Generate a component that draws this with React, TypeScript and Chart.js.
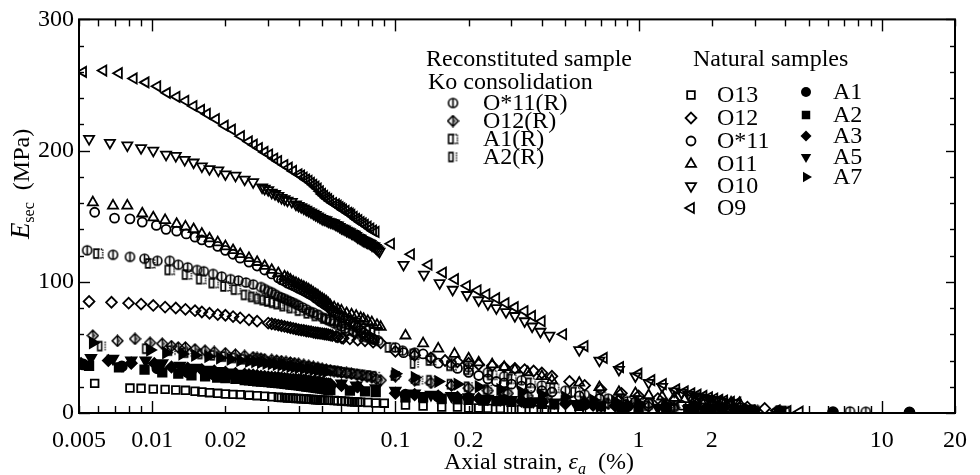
import React, { useEffect, useRef } from "react";
import { Chart, registerables } from "chart.js";
Chart.register(...registerables);

type Pt = [number, number];

const X_TICKS = [0.005, 0.01, 0.02, 0.1, 0.2, 1, 2, 10, 20];
const X_TICK_LABELS = ["0.005", "0.01", "0.02", "0.1", "0.2", "1", "2", "10", "20"];
const Y_TICKS = [0, 100, 200, 300];

// ---------- Natural samples ----------
const O13: Pt[] = [[0.0058,22.6],[0.0081,19],[0.009,18.8],[0.0101,18.2],[0.0113,18],[0.0125,17.5],[0.0137,17.3],[0.015,16.6],[0.016,16],[0.0172,15.5],[0.0186,15],[0.02,14.5],[0.0215,14.2],[0.023,14],[0.025,13.6],[0.027,13.2],[0.029,12.8],[0.031,12.4],[0.033,12],[0.035,11.7],[0.037,11.4],[0.04,11],[0.042,10.8],[0.044,10.5],[0.046,10.3],[0.048,10],[0.05,9.8],[0.053,9.7],[0.056,9.5],[0.06,9.2],[0.064,8.8],[0.068,8.4],[0.072,8.3],[0.077,8],[0.083,7.6],[0.09,7.5],
[0.034,11.8],[0.036,11.5],[0.038,11.2],[0.039,11.1],[0.041,10.9],[0.043,10.6],[0.045,10.4],[0.047,10.1],[0.049,9.9],[0.051,9.8],[0.058,9.3],[0.062,9],[0.066,8.6],[0.07,8.4],
[0.11,6],[0.13,5.3],[0.155,4.5],[0.18,4.5],[0.2,3.8],[0.22,3.8],[0.24,3.5],[0.27,3.3],[0.3,3],[0.33,2.8],[0.37,2.5],[0.41,2.3],[0.45,1.8],
[0.57,1.5],[0.7,1.3],[0.85,1.2],[1.0,1.1],[1.3,1],[1.7,0.9],[2.2,0.8],[2.7,0.7]];

const O12: Pt[] = [[0.0055,85],[0.0068,84.4],[0.008,83.7],[0.009,83],[0.0101,82],[0.0113,80.7],[0.0125,80],[0.0137,79],[0.015,78],[0.016,77],[0.0172,76],[0.0186,75],[0.02,74.5],[0.0215,73.5],[0.023,72.5],[0.025,71],[0.027,70],[0.03,68.5],[0.032,67.5],[0.035,66],[0.037,65],[0.04,63.5],[0.042,63],[0.045,62],[0.048,61],[0.05,60.5],[0.052,60],[0.055,59],[0.058,58],[0.061,57],[0.065,56.5],[0.07,55.5],[0.075,55],[0.081,54],[0.087,53.5],
[0.031,68],[0.033,67],[0.034,66.5],[0.036,65.5],[0.038,64.5],[0.039,64],[0.041,63.2],[0.043,62.5],[0.044,62.2],[0.046,61.5],[0.047,61.2],[0.049,60.7],[0.051,60.2],[0.053,59.7],[0.054,59.3],[0.057,58.3],[0.06,57.3],
[0.1,47],[0.12,44],[0.14,42],[0.16,40],[0.18,39],[0.2,38],[0.22,37],[0.25,36],[0.28,35],[0.31,34],[0.34,33],[0.37,32],[0.4,30.5],[0.44,28],
[0.52,24],[0.6,21],[0.7,18],[0.85,15],[1.0,13],[1.2,11],[1.4,9.5],[1.7,8],[2.0,6.5],[2.4,5.5],[2.8,4.5],[3.3,3.5]];

const O_STAR11: Pt[] = [[0.0058,153],[0.007,148.5],[0.0081,148],[0.0091,145.5],[0.0104,143],[0.0114,140],[0.0126,138.6],[0.0138,136.5],[0.015,134],[0.016,132],[0.0172,130],[0.0186,127],[0.02,124],[0.0215,121],[0.023,118],[0.025,115],[0.027,112],[0.029,109],[0.031,106],[0.033,103],[0.035,100.5],[0.037,98],[0.04,95],[0.042,93],[0.044,91],[0.046,89],[0.048,86.5],[0.05,84],[0.052,82],[0.054,79.5],[0.056,77],[0.058,75],[0.061,73],[0.064,71],[0.067,68],[0.07,65],[0.074,61],[0.078,58],[0.082,56],
[0.034,101.5],[0.036,99],[0.038,97],[0.039,96],[0.041,94],[0.043,92],[0.045,90],[0.047,87.5],[0.049,85],[0.051,83],[0.053,81],[0.055,78],[0.057,76],[0.059,74],[0.0625,72],[0.0655,69.5],[0.0685,66.5],[0.072,63],[0.076,59.5],[0.08,57],
[0.108,46],[0.13,45],[0.15,38],[0.18,34],[0.2,31],[0.22,28.6],[0.24,26],[0.26,24],[0.28,23],[0.3,22],[0.33,20.5],[0.36,19],[0.4,17],[0.44,16],
[0.57,13],[0.69,11],[0.83,9.5],[0.97,8.5],[1.1,7.5],[1.3,6.5],[1.5,6],[1.7,5.5],[2.0,5],[2.3,4.5],[2.6,4]];

const O11: Pt[] = [[0.0057,160.5],[0.0069,158],[0.0079,158],[0.0091,152],[0.0101,149],[0.0113,147],[0.0126,144],[0.0137,142],[0.0148,140],[0.016,136.5],[0.0172,133],[0.0186,130],[0.02,127],[0.0215,124],[0.023,121],[0.025,118],[0.027,115],[0.029,112],[0.031,109],[0.033,106.5],[0.035,104],[0.037,101.5],[0.04,98],[0.042,96],[0.044,94],[0.046,91.5],[0.048,89.5],[0.05,87],[0.052,85],[0.054,82],[0.058,79],[0.063,76],[0.069,74],[0.074,71.6],[0.08,69],[0.087,65.6],
[0.036,103],[0.038,100],[0.039,99],[0.041,97],[0.043,95],[0.045,93],[0.047,90.5],[0.049,88],[0.051,86],[0.053,83.5],[0.056,80.5],[0.06,78],[0.066,75],[0.072,72.5],[0.077,70],[0.084,67],
[0.11,59],[0.13,53],[0.15,49],[0.175,45],[0.2,41.5],[0.22,38.5],[0.25,37],[0.28,35],[0.31,33],[0.35,31],[0.4,28],[0.44,25],
[0.57,23],[0.69,19.6],[0.83,16],[0.97,15],[1.1,13.5],[1.25,12.5],[1.4,11.5],[1.55,10.5],[1.7,10],[1.85,9.5],[2.0,9],[2.2,8.5],[2.4,8],[2.6,7.5]];

const O10: Pt[] = [[0.0055,209],[0.0067,206],[0.0079,204],[0.009,202],[0.0101,200],[0.0114,197],[0.0125,196],[0.0136,193],[0.0148,191],[0.016,188],[0.0172,186],[0.0187,185],[0.02,182],[0.022,181],[0.024,178],[0.026,176],[0.0283,172],[0.029,171],[0.03,170],[0.031,168],[0.032,167],[0.033,165.5],[0.034,164],[0.035,163],[0.036,162],[0.0375,161],[0.039,159],[0.041,157],[0.043,155],[0.045,153],[0.047,151],[0.05,148],[0.053,146],[0.055,145],[0.058,143],[0.06,141],[0.063,139],[0.065,138],[0.068,136],[0.07,134],[0.073,132],[0.075,131],[0.078,129.5],[0.08,128],[0.083,126],[0.086,123],
[0.04,158],[0.042,156],[0.044,154],[0.046,152],[0.048,150],[0.049,149],[0.051,147.5],[0.052,147],[0.054,145.5],[0.056,144.5],[0.057,143.5],[0.059,142],[0.061,140.5],[0.062,140],[0.064,138.5],[0.066,137],[0.067,136.5],[0.069,135],[0.071,133.5],[0.072,133],[0.074,131.5],[0.076,130.5],[0.077,130],[0.079,129],[0.081,127.5],[0.082,127],[0.084,125],[0.085,124],
[0.108,113],[0.131,105.5],[0.152,99],[0.172,94],[0.197,90],[0.22,86],[0.24,83],[0.26,80],[0.285,77],[0.31,74],[0.34,70],[0.365,66],[0.395,62],[0.43,59],
[0.57,48],[0.69,40],[0.83,33],[0.97,28],[1.1,23],[1.25,20],[1.4,16.5],[1.5,15.5],[1.6,14],[1.7,13],[1.8,12],[1.9,11],[2.0,10],[2.1,9.5],[2.2,9],[2.35,8],[2.5,7.5]];

const O9: Pt[] = [[0.0052,260],[0.0063,261],[0.0073,259],[0.0084,255],[0.0094,252],[0.0105,249],[0.0115,244],[0.0126,241],[0.0137,238],[0.0148,234],[0.0159,231],[0.0168,228],[0.0183,224],[0.0199,219],[0.0213,216],[0.0232,211],[0.025,207],[0.0262,204.5],[0.0275,202],[0.029,199],[0.0303,197],[0.0318,194],[0.033,192],[0.035,189],[0.0365,187],[0.038,184.5],[0.04,182],[0.042,179.5],[0.044,177],[0.046,174],[0.048,171],[0.05,167],[0.052,164],[0.054,161.5],[0.057,159],[0.059,157],[0.061,155],[0.064,152.5],[0.066,151],[0.069,148],[0.072,145.5],[0.075,143.5],[0.079,140.5],[0.083,138],
[0.041,181],[0.043,178],[0.045,175.5],[0.047,172.5],[0.049,169],[0.051,165.5],[0.053,163],[0.0555,160],[0.058,158],[0.06,156],[0.0625,154],[0.065,152],[0.0675,149.5],[0.0705,147],[0.0735,144.5],[0.077,142],[0.081,139],
[0.096,129],[0.116,121],[0.137,113],[0.157,107],[0.176,102],[0.197,97],[0.218,93.5],[0.237,90.5],[0.26,87.5],[0.284,83.7],[0.31,80.7],[0.34,77.7],[0.365,74],[0.4,70],
[0.49,60],[0.6,51],[0.72,42],[0.84,35],[1.0,30],[1.13,25],[1.26,22],[1.43,18],[1.55,16.5],[1.65,15],[1.75,14],[1.85,13],[1.95,12],[2.05,11],[2.15,10],[2.25,9.5],[2.4,8.5],[2.55,8],[3.7,2],[4.1,1.5],[4.6,1]];

const A1: Pt[] = [[0.0052,37],[0.0075,35.5],[0.0105,34],[0.014,31],[0.018,29],[0.023,27],[0.028,25.5],[0.034,24],[0.04,23],[0.047,22],[0.054,21],[0.11,14],[0.15,12.5],[0.2,11.5],[0.28,10],[0.4,8.5],[0.6,6.5],[0.9,5],[1.3,4],[1.9,3],[2.8,2],[3.8,1.5],[6.3,0.6],[13,0.4]];

const A2: Pt[] = [[0.0055,36],[0.0073,34.7],[0.0093,33],[0.011,31],[0.0128,30],[0.0145,28.6],[0.0165,28],[0.0185,27],[0.02,26.5],[0.022,26],[0.024,25],[0.026,24.5],[0.028,24],[0.03,23.5],[0.032,23],[0.034,22.5],[0.036,22],[0.038,21.5],[0.04,21],[0.042,20.5],[0.044,20],[0.046,19.5],[0.048,19],[0.05,18.5],[0.052,18],[0.054,17.5],
[0.025,24.8],[0.027,24.2],[0.029,23.7],[0.031,23.2],[0.033,22.7],[0.035,22.2],[0.037,21.7],[0.039,21.2],[0.041,20.7],[0.043,20.2],[0.045,19.7],[0.047,19.2],[0.049,18.7],[0.051,18.2],[0.053,17.7],
[0.065,17],[0.075,16.5],[0.083,16],[0.11,12],[0.13,12],[0.155,11],[0.18,10.5],[0.2,10],[0.23,9.5],[0.26,9],[0.3,8.5],[0.35,7.5],[0.4,7],[0.45,6.5],[0.57,5.5],[0.7,5],[0.85,4.5],[1.0,4],[1.3,3.5],[1.6,3],[2.0,2.5],[2.5,2]];

const A3: Pt[] = [[0.0051,37.7],[0.0066,40],[0.0082,38],[0.0102,37.7],[0.012,35],[0.014,34],[0.016,33],[0.018,32],[0.02,31],[0.022,30],[0.024,29.5],[0.026,29],[0.028,28],[0.03,27.5],[0.033,27],[0.036,26],[0.039,25.5],[0.042,25],[0.045,24],[0.048,23.5],[0.051,22.5],[0.054,22],
[0.025,29.2],[0.027,28.5],[0.029,27.8],[0.031,27.3],[0.032,27.1],[0.034,26.6],[0.035,26.3],[0.037,25.8],[0.038,25.6],[0.04,25.3],[0.041,25.1],[0.043,24.6],[0.044,24.3],[0.046,23.8],[0.047,23.6],[0.049,23.2],[0.05,22.8],[0.052,22.3],[0.053,22.1],
[0.06,21],[0.07,20],[0.1,15],[0.12,14],[0.15,13],[0.18,12],[0.22,11],[0.27,10],[0.33,9],[0.4,8],[0.5,7],[0.65,6],[0.8,5.5],[1.0,5],[1.3,4],[1.7,3.5],[2.2,3],[2.7,2.5]];

const A5: Pt[] = [[0.0056,42],[0.0069,41.5],[0.0082,40],[0.0094,40],[0.011,38],[0.013,36],[0.015,34.5],[0.017,33],[0.019,32],[0.021,31],[0.023,30],[0.025,29],[0.028,28],[0.031,27],[0.034,26],[0.037,25],[0.04,24.5],[0.044,24],[0.048,23],[0.052,22.5],
[0.024,29.5],[0.026,28.7],[0.027,28.3],[0.029,27.6],[0.03,27.3],[0.032,26.6],[0.033,26.3],[0.035,25.6],[0.036,25.3],[0.038,24.8],[0.039,24.6],[0.042,24.2],[0.046,23.5],[0.05,22.7],
[0.06,22.6],[0.069,21],[0.083,19],[0.1,17],[0.12,15],[0.14,14],[0.17,13],[0.2,12],[0.24,11],[0.3,10],[0.37,9],[0.45,8],[0.55,7],[0.7,6],[0.9,5],[1.2,4],[1.6,3],[2.2,2.5],[3.0,1.5]];

const A7: Pt[] = [[0.0057,53.5],[0.0098,48],[0.0114,46],[0.0133,45],[0.015,44],[0.017,43],[0.019,42],[0.021,41],[0.023,40],[0.025,39.5],[0.028,38.5],[0.031,37.5],[0.034,36.5],[0.037,35.5],[0.04,34.5],[0.044,33.5],[0.048,32.5],[0.052,31.5],
[0.0265,39],[0.0295,38],[0.0325,37],[0.0355,36],[0.0385,35],[0.042,34],[0.046,33],[0.05,32],
[0.1,30],[0.12,27],[0.15,24],[0.18,22],[0.22,20],[0.27,18],[0.33,16],[0.4,14],[0.5,12],[0.65,10],[0.8,9],[1.0,7.5],[1.3,6],[1.7,5],[2.2,4],[2.8,3]];

// ---------- Reconstituted samples (Ko consolidation) ----------
const O_STAR11_R: Pt[] = [[0.0054,124],[0.0069,120.6],[0.0081,119],[0.0093,117.6],[0.0105,116],[0.0118,116],[0.0128,113],[0.014,111],[0.0153,109],[0.0163,108],[0.0178,106],[0.0193,104],[0.021,102],[0.0226,101],[0.0243,99.5],[0.026,98],[0.028,96],[0.03,93],[0.032,90.5],[0.034,88],[0.036,86],[0.038,84],[0.04,82],[0.043,79],[0.046,76.5],[0.05,73],[0.054,70],[0.058,67],[0.062,64.5],[0.067,62],[0.072,59.5],[0.078,57],[0.085,55],
[0.029,94.5],[0.031,92],[0.033,89],[0.035,87],[0.037,85],[0.039,83],[0.0415,80.5],[0.0445,77.5],[0.048,75],[0.052,71.5],[0.056,68.5],[0.06,66],[0.0645,63],[0.0695,61],[0.075,58],[0.081,56],
[0.1,50],[0.107,47.5],[0.12,46],[0.14,42],[0.17,38],[0.2,35],[0.24,31],[0.28,28],[0.33,25],[0.4,21],[0.5,17],[0.6,14],[0.75,11],[0.9,9],[1.1,7],[1.4,5.5],[1.8,4],[2.3,3],[3.0,2],[4.0,1.2],[7.4,1.2],[8.6,1]];

const O12_R: Pt[] = [[0.0057,59],[0.0072,55],[0.0085,56.5],[0.0098,53.5],[0.011,52.8],[0.012,51],[0.0128,50],[0.0137,50],[0.015,48.5],[0.0165,47.5],[0.018,46.5],[0.02,45.5],[0.022,44.5],[0.024,43.5],[0.026,42.5],[0.028,41.5],[0.031,40.5],[0.034,39.5],[0.037,38.5],[0.04,37.5],[0.044,36],[0.048,34.5],[0.052,33],[0.056,32],[0.06,31],[0.066,30],[0.073,28.5],[0.08,27],[0.087,25],
[0.027,42],[0.029,41],[0.0325,40],[0.0355,39],[0.0385,38],[0.042,36.7],[0.046,35.2],[0.05,33.7],[0.054,32.5],[0.058,31.5],[0.063,30.5],[0.0695,29.2],[0.0765,27.7],[0.0835,26],
[0.1,28],[0.12,25],[0.14,23],[0.17,21],[0.2,19],[0.24,17],[0.29,15],[0.35,13],[0.42,11.5],[0.5,10],[0.6,8.5],[0.75,7],[0.9,6],[1.1,5],[1.4,4],[1.8,3],[2.3,2.5],[3.0,2],[3.7,1.5]];

const A1_R: Pt[] = [[0.006,121.5],[0.0098,114],[0.0118,109],[0.0139,105.5],[0.0159,102],[0.0179,99],[0.02,96.5],[0.0221,94],[0.0243,90],[0.0275,87],[0.0303,85],[0.0331,83],[0.0375,80],[0.044,76],[0.0515,72],[0.056,70.5],[0.062,68.5],[0.068,66.5],[0.075,64.5],[0.082,62],
[0.026,88.5],[0.029,86],[0.0317,84],[0.035,81.5],[0.0405,78],[0.0475,74],[0.054,71],[0.059,69.5],[0.065,67.5],[0.0715,65.5],[0.0785,63],
[0.095,50],[0.12,45],[0.14,40],[0.17,36],[0.2,33],[0.25,29],[0.3,26],[0.36,23],[0.45,19],[0.55,16],[0.7,13],[0.85,11],[1.0,9.5],[1.3,7.5],[1.7,5.5],[2.2,4],[3.0,2.5],[4.0,1.5]];

const A2_R: Pt[] = [[0.0062,51],[0.0095,49],[0.012,47.5],[0.014,46],[0.016,45],[0.018,44],[0.02,43],[0.022,42],[0.024,41],[0.027,40],[0.03,39],[0.033,38],[0.036,37],[0.04,36],[0.044,35],[0.048,34],[0.052,33],[0.057,32],[0.062,31],[0.068,30],[0.075,29],[0.083,28],
[0.0255,40.5],[0.0285,39.5],[0.0315,38.5],[0.0345,37.5],[0.038,36.5],[0.042,35.5],[0.046,34.5],[0.05,33.5],[0.0545,32.5],[0.0595,31.5],[0.065,30.5],[0.0715,29.5],[0.079,28.5],
[0.1,28.6],[0.12,37.7],[0.125,25],[0.14,25],[0.17,22],[0.2,20],[0.24,18],[0.29,16],[0.35,14],[0.42,12],[0.5,10],[0.6,9],[0.75,7.5],[0.9,6.5],[1.1,5.5],[1.4,4.5],[1.8,3.5],[2.3,2.5],[3.0,2]];

const NATURAL_OPEN_LABELS = ["O13", "O12", "O*11", "O11", "O10", "O9"];
const NATURAL_FILLED_LABELS = ["A1", "A2", "A3", "A5", "A7"];
const RECON_LABELS = ["O*11(R)", "O12(R)", "A1(R)", "A2(R)"];

const SERIF = '"Liberation Serif", "Times New Roman", serif';

type Spec = { label: string; data: Pt[]; shape: string; rot: number; filled: boolean; r: number; custom?: boolean };

const SPECS: Spec[] = [
  { label: "O13", data: O13, shape: "rect", rot: 0, filled: false, r: 5.4 },
  { label: "O12", data: O12, shape: "rectRot", rot: 0, filled: false, r: 5.4 },
  { label: "O*11", data: O_STAR11, shape: "circle", rot: 0, filled: false, r: 4.5 },
  { label: "O11", data: O11, shape: "triangle", rot: 0, filled: false, r: 5.8 },
  { label: "O10", data: O10, shape: "triangle", rot: 180, filled: false, r: 5.8 },
  { label: "O9", data: O9, shape: "triangle", rot: 270, filled: false, r: 5.8 },
  { label: "A1", data: A1, shape: "circle", rot: 0, filled: true, r: 5 },
  { label: "A2", data: A2, shape: "rect", rot: 0, filled: true, r: 6 },
  { label: "A3", data: A3, shape: "rectRot", rot: 0, filled: true, r: 5.5 },
  { label: "A5", data: A5, shape: "triangle", rot: 180, filled: true, r: 6 },
  { label: "A7", data: A7, shape: "triangle", rot: 90, filled: true, r: 6 },
  { label: "O*11(R)", data: O_STAR11_R, shape: "circleBar", rot: 0, filled: false, r: 5, custom: true },
  { label: "O12(R)", data: O12_R, shape: "diamondHalf", rot: 0, filled: false, r: 5, custom: true },
  { label: "A1(R)", data: A1_R, shape: "squareBar", rot: 0, filled: false, r: 5, custom: true },
  { label: "A2(R)", data: A2_R, shape: "rectDot", rot: 0, filled: false, r: 5, custom: true },
];

function makeMarker(kind: string): HTMLCanvasElement {
  const c = document.createElement("canvas");
  c.width = 13;
  c.height = 13;
  const g = c.getContext("2d")!;
  g.strokeStyle = "#000";
  g.fillStyle = "#000";
  g.lineWidth = 1.6;
  const cx = 6.5, cy = 6.5;
  if (kind === "circleBar") {
    g.beginPath(); g.arc(cx, cy, 4.5, 0, Math.PI * 2); g.stroke();
    g.beginPath(); g.moveTo(cx, cy - 4.5); g.lineTo(cx, cy + 4.5); g.stroke();
  } else if (kind === "diamondHalf") {
    g.beginPath(); g.moveTo(cx, cy - 5.3); g.lineTo(cx + 5.3, cy); g.lineTo(cx, cy + 5.3); g.lineTo(cx - 5.3, cy); g.closePath(); g.stroke();
    g.beginPath(); g.moveTo(cx, cy - 5.3); g.lineTo(cx, cy + 5.3); g.stroke();
    g.fillStyle = "#444";
    g.beginPath(); g.moveTo(cx, cy - 3); g.lineTo(cx + 3, cy); g.lineTo(cx, cy + 3); g.closePath(); g.fill();
  } else if (kind === "squareBar") {
    g.beginPath(); g.moveTo(cx, cy - 4.4); g.lineTo(cx - 4.4, cy - 4.4); g.lineTo(cx - 4.4, cy + 4.4); g.lineTo(cx, cy + 4.4); g.closePath(); g.stroke();
    g.setLineDash([1.3, 1.1]);
    g.beginPath(); g.moveTo(cx, cy - 4.4); g.lineTo(cx + 4.4, cy - 4.4); g.lineTo(cx + 4.4, cy + 4.4); g.lineTo(cx, cy + 4.4); g.stroke();
  } else if (kind === "rectDot") {
    g.beginPath(); g.rect(cx - 4, cy - 4.4, 4, 8.8); g.stroke();
    g.setLineDash([1.2, 1.2]);
    g.beginPath(); g.moveTo(cx + 3.5, cy - 4.4); g.lineTo(cx + 3.5, cy + 4.4); g.stroke();
  }
  return c;
}

function drawSymbol(ctx: CanvasRenderingContext2D, s: Spec, x: number, y: number, imgs: Record<string, HTMLCanvasElement>) {
  ctx.save();
  ctx.translate(x, y);
  if (s.custom) {
    const im = imgs[s.shape];
    ctx.drawImage(im, -im.width / 2, -im.height / 2);
    ctx.restore();
    return;
  }
  ctx.rotate((s.rot * Math.PI) / 180);
  ctx.lineWidth = 1.8;
  ctx.strokeStyle = "#000";
  ctx.fillStyle = "#000";
  ctx.beginPath();
  const r = s.r;
  if (s.shape === "triangle") {
    for (let k = 0; k < 3; k++) {
      const a = (k * 2 * Math.PI) / 3;
      const px = Math.sin(a) * r, py = -Math.cos(a) * r;
      if (k === 0) ctx.moveTo(px, py); else ctx.lineTo(px, py);
    }
    ctx.closePath();
  } else if (s.shape === "circle") {
    ctx.arc(0, 0, r, 0, Math.PI * 2);
  } else if (s.shape === "rect") {
    const h = Math.SQRT1_2 * r;
    ctx.rect(-h, -h, 2 * h, 2 * h);
  } else if (s.shape === "rectRot") {
    ctx.moveTo(0, -r); ctx.lineTo(r, 0); ctx.lineTo(0, r); ctx.lineTo(-r, 0); ctx.closePath();
  }
  if (s.filled) ctx.fill(); else ctx.stroke();
  ctx.restore();
}

export default function App() {
  const ref = useRef<HTMLCanvasElement>(null);
  useEffect(() => {
    const imgs: Record<string, HTMLCanvasElement> = {
      circleBar: makeMarker("circleBar"),
      diamondHalf: makeMarker("diamondHalf"),
      squareBar: makeMarker("squareBar"),
      rectDot: makeMarker("rectDot"),
    };
    const bySpec = (label: string) => SPECS.find((s) => s.label === label)!;

    const decor = {
      id: "decor",
      afterDraw(chart: any) {
        const ctx: CanvasRenderingContext2D = chart.ctx;
        const a = chart.chartArea;
        const xs = chart.scales.x, ys = chart.scales.y;
        ctx.save();
        ctx.strokeStyle = "#000";
        ctx.lineWidth = 2;
        ctx.strokeRect(a.left, a.top, a.right - a.left, a.bottom - a.top);
        const line = (x1: number, y1: number, x2: number, y2: number) => {
          ctx.beginPath(); ctx.moveTo(x1, y1); ctx.lineTo(x2, y2); ctx.stroke();
        };
        ctx.lineWidth = 1.4;
        for (const d of [0.001, 0.01, 0.1, 1, 10]) {
          for (let m = 1; m <= 9; m++) {
            const v = m * d;
            if (v < 0.005 * 0.999 || v > 20 * 1.001) continue;
            const px = Math.round(xs.getPixelForValue(v)) + 0.5;
            const len = m === 1 ? 12 : 7;
            line(px, a.bottom, px, a.bottom - len);
            line(px, a.top, px, a.top + len);
          }
        }
        for (let v = 0; v <= 300; v += 20) {
          const py = Math.round(ys.getPixelForValue(v)) + 0.5;
          const major = v % 100 === 0;
          line(a.left, py, a.left + (major ? 11 : 5), py);
          line(a.right, py, a.right - (major ? 9 : 5), py);
        }

        ctx.fillStyle = "#000";
        ctx.textBaseline = "alphabetic";
        // x title
        const xParts: [string, string, number][] = [
          ["Axial strain, ", `24px ${SERIF}`, 0],
          ["ε", `italic 24px ${SERIF}`, 0],
          ["a", `italic 16px ${SERIF}`, 5],
          ["  (%)", `24px ${SERIF}`, 0],
        ];
        let tw = 0;
        for (const p of xParts) { ctx.font = p[1]; tw += ctx.measureText(p[0]).width; }
        let cx = (a.left + a.right) / 2 + 22 - tw / 2;
        for (const p of xParts) {
          ctx.font = p[1];
          ctx.fillText(p[0], cx, 469 + p[2]);
          cx += ctx.measureText(p[0]).width;
        }
        // y title
        ctx.save();
        ctx.translate(21, 184);
        ctx.rotate(-Math.PI / 2);
        const yParts: [string, string, number][] = [
          ["E", `italic 27px ${SERIF}`, 0],
          ["sec", `16px ${SERIF}`, 5],
          ["  (MPa)", `24px ${SERIF}`, 0],
        ];
        tw = 0;
        for (const p of yParts) { ctx.font = p[1]; tw += ctx.measureText(p[0]).width; }
        let lx = -tw / 2;
        for (const p of yParts) {
          ctx.font = p[1];
          ctx.fillText(p[0], lx, 8 + p[2]);
          lx += ctx.measureText(p[0]).width;
        }
        ctx.restore();

        // legend
        ctx.font = `24px ${SERIF}`;
        ctx.textBaseline = "middle";
        ctx.textAlign = "left";
        ctx.fillText("Reconstituted sample", 426, 60);
        ctx.fillText("Ko consolidation", 428, 83);
        const reconY = [103, 121, 139, 157];
        RECON_LABELS.forEach((lab, i) => {
          drawSymbol(ctx, bySpec(lab), 453, reconY[i], imgs);
          ctx.fillText(lab, 483, reconY[i] + 1);
        });
        ctx.fillText("Natural samples", 693, 60);
        const natY = [95, 118, 141, 164, 186, 208];
        NATURAL_OPEN_LABELS.forEach((lab, i) => {
          drawSymbol(ctx, bySpec(lab), 691, natY[i], imgs);
          ctx.fillText(lab, 717, natY[i] + 1);
        });
        const filY = [92, 115, 136, 157, 177];
        NATURAL_FILLED_LABELS.forEach((lab, i) => {
          drawSymbol(ctx, bySpec(lab), 806, filY[i], imgs);
          ctx.fillText(lab, 833, filY[i] + 1);
        });
        ctx.restore();
      },
    };

    const datasets = SPECS.map((s) => ({
      label: s.label,
      data: s.data.map(([x, y]) => ({ x, y })),
      pointStyle: s.custom ? imgs[s.shape] : s.shape,
      rotation: s.rot,
      pointRadius: s.r,
      borderWidth: 1.8,
      borderColor: "#000",
      backgroundColor: s.filled ? "#000" : "rgba(0,0,0,0)",
      showLine: false,
    }));

    const chart = new Chart(ref.current!, {
      type: "scatter",
      data: { datasets } as any,
      options: {
        animation: false,
        responsive: true,
        maintainAspectRatio: false,
        devicePixelRatio: 1,
        layout: { padding: { top: 15, right: 20, left: 0, bottom: 0 } },
        plugins: { legend: { display: false }, tooltip: { enabled: false } },
        events: [],
        scales: {
          x: {
            type: "logarithmic",
            min: 0.005,
            max: 20,
            grid: { display: false, drawTicks: false },
            border: { display: false },
            afterBuildTicks: (s: any) => { s.ticks = X_TICKS.map((v) => ({ value: v })); },
            afterFit: (s: any) => { s.height = 62; },
            ticks: {
              autoSkip: false,
              maxRotation: 0,
              minRotation: 0,
              padding: 13,
              color: "#000",
              font: { family: SERIF, size: 24 },
              callback: (_v: any, i: number) => X_TICK_LABELS[i],
            },
          },
          y: {
            type: "linear",
            min: 0,
            max: 300,
            grid: { display: false, drawTicks: false },
            border: { display: false },
            afterBuildTicks: (s: any) => { s.ticks = Y_TICKS.map((v) => ({ value: v })); },
            afterFit: (s: any) => { s.width = 79; },
            ticks: {
              padding: 5,
              color: "#000",
              font: { family: SERIF, size: 24 },
              callback: (v: any) => String(v),
            },
          },
        },
      } as any,
      plugins: [decor],
    });
    return () => chart.destroy();
  }, []);

  return (
    <div style={{ position: "absolute", left: 0, top: 0, width: 980, height: 475, background: "#fff" }}>
      <canvas ref={ref} />
    </div>
  );
}
